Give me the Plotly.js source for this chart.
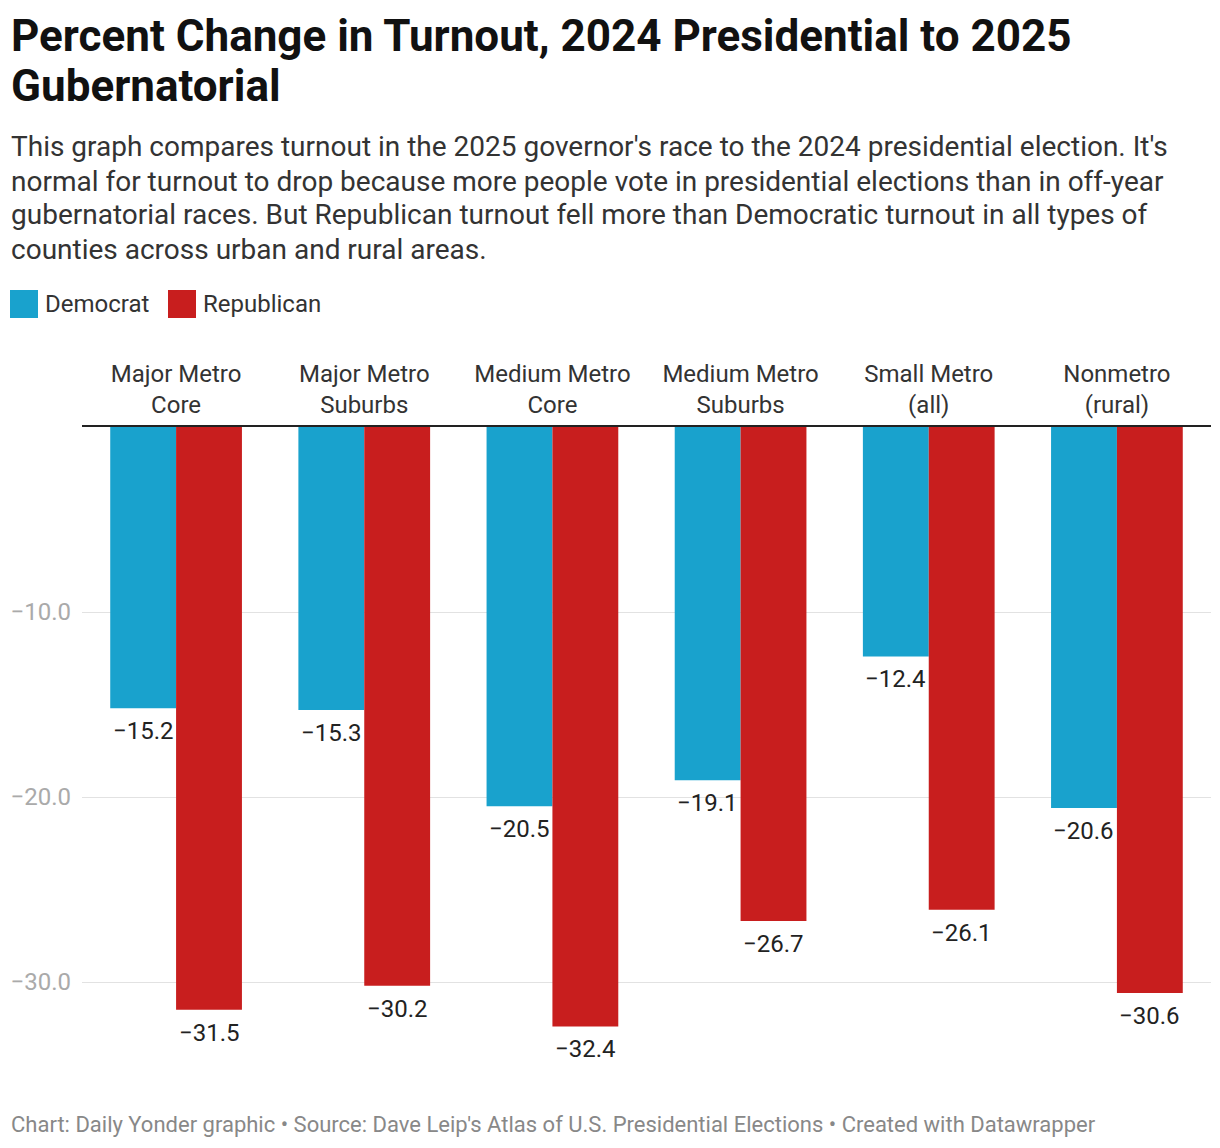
<!DOCTYPE html>
<html>
<head>
<meta charset="utf-8">
<script src="https://cdn.plot.ly/plotly-3.0.1.min.js"></script>
<style>
html,body{margin:0;padding:0;background:#fff;}
#chart{width:1220px;height:1148px;}
</style>
</head>
<body>
<div id="chart"></div>
<script>
const categories = ["Major Metro<br>Core","Major Metro<br>Suburbs","Medium Metro<br>Core","Medium Metro<br>Suburbs","Small Metro<br>(all)","Nonmetro<br>(rural)"];
const democrat = [-15.2, -15.3, -20.5, -19.1, -12.4, -20.6];
const republican = [-31.5, -30.2, -32.4, -26.7, -26.1, -30.6];
const yTicks = [-10, -20, -30];
const seriesNames = ["Democrat", "Republican"];

const W = 1220, H = 1148, L = 82, R = 1211, T = 427, B = 1056;
const px = x => (x - L) / (R - L);
const py = y => (B - y) / (B - T);
const BLUE = "#19a2cd", RED = "#c81e1e";
const FONT = "Roboto, 'Noto Sans', sans-serif";
const fmt = v => v.toFixed(1).replace("-", "\u2212");

const traces = [
  {type:"bar", name:seriesNames[0], x:categories, y:democrat, marker:{color:BLUE}, hoverinfo:"skip"},
  {type:"bar", name:seriesNames[1], x:categories, y:republican, marker:{color:RED}, hoverinfo:"skip"}
];

const annotations = [];
// value labels below each bar, tied to data coordinates
[democrat, republican].forEach((series, s) => {
  series.forEach((v, i) => {
    annotations.push({xref:"x", yref:"y", x:categories[i], y:v, xshift:(s === 0 ? -33 : 33), yshift:-23,
      xanchor:"center", yanchor:"middle", text:fmt(v), showarrow:false,
      font:{family:FONT, size:24, color:"#222"}});
  });
});

const titleLines = ["Percent Change in Turnout, 2024 Presidential to 2025", "Gubernatorial"];
titleLines.forEach((line, i) => {
  annotations.push({xref:"paper", yref:"paper", x:px(9), y:py(36 + i*50), xanchor:"left", yanchor:"middle",
    text:"<b>" + line + "</b>", showarrow:false, font:{family:FONT, size:44, color:"#111"}});
});

const subtitle = [
  "This graph compares turnout in the 2025 governor's race to the 2024 presidential election. It's",
  "normal for turnout to drop because more people vote in presidential elections than in off-year",
  "gubernatorial races. But Republican turnout fell more than Democratic turnout in all types of",
  "counties across urban and rural areas."
];
subtitle.forEach((line, i) => {
  annotations.push({xref:"paper", yref:"paper", x:px(9), y:py(147 + i*34), xanchor:"left", yanchor:"middle",
    text:line, showarrow:false, font:{family:FONT, size:28, color:"#333"}});
});
annotations.push({xref:"paper", yref:"paper", x:px(43), y:py(304), xanchor:"left", yanchor:"middle",
  text:seriesNames[0], showarrow:false, font:{family:FONT, size:24, color:"#333"}});
annotations.push({xref:"paper", yref:"paper", x:px(201), y:py(304), xanchor:"left", yanchor:"middle",
  text:seriesNames[1], showarrow:false, font:{family:FONT, size:24, color:"#333"}});
annotations.push({xref:"paper", yref:"paper", x:px(9), y:py(1124), xanchor:"left", yanchor:"middle",
  text:"Chart: Daily Yonder graphic • Source: Dave Leip's Atlas of U.S. Presidential Elections • Created with Datawrapper",
  showarrow:false, font:{family:FONT, size:22, color:"#888"}});

const shapes = [
  {type:"rect", xref:"paper", yref:"paper", x0:px(10), x1:px(38), y0:py(290), y1:py(318), fillcolor:BLUE, line:{width:0}},
  {type:"rect", xref:"paper", yref:"paper", x0:px(168), x1:px(196), y0:py(290), y1:py(318), fillcolor:RED, line:{width:0}}
];

const layout = {
  width:W, height:H,
  margin:{l:L, r:W-R, t:T, b:H-B, pad:0},
  paper_bgcolor:"#fff", plot_bgcolor:"#fff",
  showlegend:false,
  barmode:"group", bargap:0.3, bargroupgap:0,
  font:{family:FONT},
  xaxis:{side:"top", showline:true, linecolor:"#222", linewidth:2, ticks:"", showgrid:false,
    tickfont:{family:FONT, size:24, color:"#333"}, fixedrange:true, ticklabelstandoff:2},
  yaxis:{range:[-34, 0], tickvals:yTicks, tickformat:".1f", showgrid:true, gridcolor:"#e2e2e2", gridwidth:1,
    zeroline:false, ticks:"", tickfont:{family:FONT, size:24, color:"#aaa"}, ticklabelstandoff:10, fixedrange:true},
  annotations:annotations,
  shapes:shapes
};

Plotly.newPlot("chart", traces, layout, {displayModeBar:false, staticPlot:true});
</script>
</body>
</html>
